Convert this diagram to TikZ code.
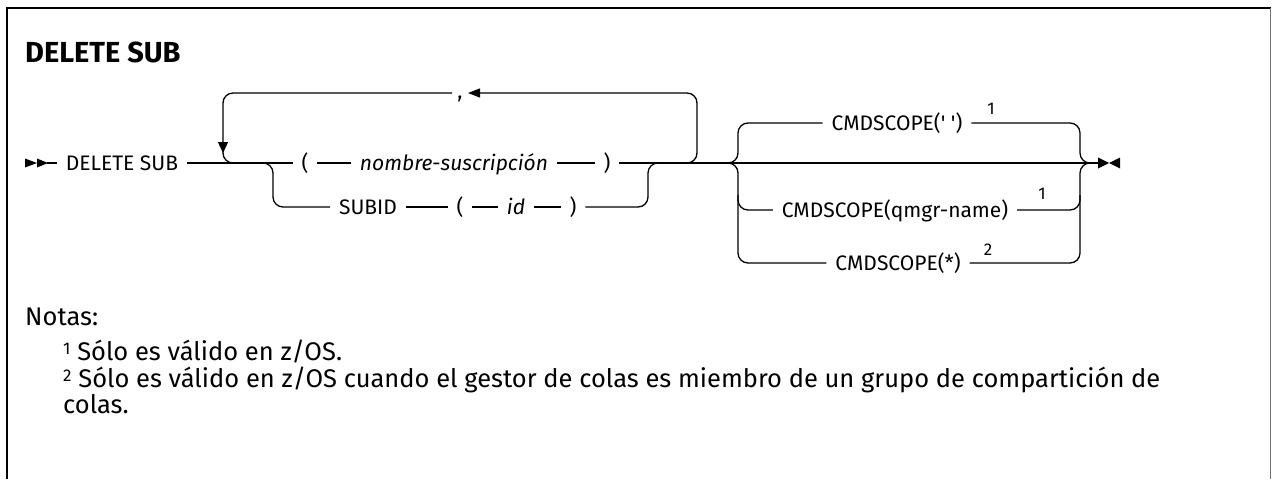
\documentclass[tikz,border=0pt]{standalone}
\usepackage{fontspec}
\setmainfont{Fira Sans}
\usetikzlibrary{arrows.meta}

\newcommand{\notemark}[1]{\raisebox{6pt}{\fontsize{17}{17}\selectfont #1}}

\tikzset{
  rail/.style={line width=1.3pt, rounded corners=10pt},
  tok/.style={inner xsep=9pt, inner ysep=0pt, outer sep=0pt,
              text height=14.5pt, text depth=0pt,
              font=\fontsize{21}{25}\selectfont},
  var/.style={tok, font=\fontsize{21}{25}\selectfont\itshape},
  supnum/.style={inner sep=0pt, font=\fontsize{17}{18}\selectfont},
  notetext/.style={anchor=base west, inner sep=0pt,
                   font=\fontsize{25.5}{30}\selectfont}
}

\begin{document}
\begin{tikzpicture}[x=1pt, y=-1pt]
    \useasboundingbox (0,0) rectangle (1273,479);

    % Frame
    \draw[line width=2.5pt] (7,479) -- (7,8) -- (1271,8);
    \draw[black!55, line width=1pt] (1270,8) -- (1270,479);

    % Title
    \node[anchor=base west, inner sep=0pt,
          font=\bfseries\fontsize{29}{34}\selectfont] (title) at (25,62) {DELETE SUB};

    % Start marker
    \fill (25,158.5) -- (37,163) -- (25,167.5) -- cycle;
    \fill (37,158.5) -- (48,163) -- (37,167.5) -- cycle;
    \coordinate (start) at (47,163);

    % Tokens on the main line
    \node[tok] (delsub) at (122,163) {DELETE SUB};
    \node[tok] (lpar) at (305,163) {(};
    \node[var] (subname) at (454,163) {nombre-suscripción};
    \node[tok] (rpar) at (607,163) {)};

    % Tokens on the lower branch
    \node[tok] (subid) at (368,207) {SUBID};
    \node[tok] (lpar2) at (460,207) {(};
    \node[var] (idval) at (516,207) {id};
    \node[tok] (rpar2) at (573,207) {)};

    \coordinate (split) at (263,163);
    \coordinate (choice) at (728,163);
    \coordinate (finish) at (1098,163);

    % Main line
    \draw[rail] (start) -- (delsub);
    \draw[rail] (delsub) -- (lpar);
    \draw[rail] (lpar) -- (subname);
    \draw[rail] (subname) -- (rpar);
    \draw[rail] (rpar) -- (choice);

    % Lower branch
    \draw[rail] (split) -- (273,163) -- (273,207) -- (subid);
    \draw[rail] (subid) -- (lpar2);
    \draw[rail] (lpar2) -- (idval);
    \draw[rail] (idval) -- (rpar2);
    \draw[rail] (rpar2) -- (648,207) -- (648,163) -- (660,163);

    % Repeat loop
    \node[tok, inner xsep=0pt] (comma) at (460,91) {,};
    \coordinate (commaR) at (468,93);
    \coordinate (commaL) at (452,93);
    \coordinate (loopR) at (672,163);
    \coordinate (loopL) at (245,163);
    \draw[rail, -{Triangle[length=12pt,width=9pt]}]
        (loopR) -- (697,163) -- (697,93) -- (commaR);
    \draw[rail, -{Triangle[length=11pt,width=10pt]}]
        (commaL) -- (223,93) -- (223,153);
    \draw[rail] (223,145) -- (223,163) -- (loopL);

    % Choice of scope
    \node[tok] (scope1) at (897,123) {CMDSCOPE(\textquotesingle\ \textquotesingle)};
    \node[tok] (scope2) at (895,210) {CMDSCOPE(qmgr-name)};
    \node[tok] (scope3) at (898,263) {CMDSCOPE(*)};
    \node[supnum] (sup1) at (991,109) {1};
    \node[supnum] (sup2) at (1042,194) {1};
    \node[supnum] (sup3) at (988,250) {2};

    \draw[rail] (choice) -- (finish);
    \draw[rail] (choice) -- (738,163) -- (738,123) -- (scope1);
    \draw[rail] (choice) -- (738,163) -- (738,263) -- (scope3);
    \draw[rail] (738,195) -- (738,210) -- (scope2);
    \draw[rail] (scope1) -- (1080,123) -- (1080,163) -- (1090,163);
    \draw[rail] (scope3) -- (1080,263) -- (1080,163) -- (1090,163);
    \draw[rail] (scope2) -- (1080,210) -- (1080,195);

    % End marker
    \fill (1098,157.5) -- (1109,163) -- (1098,168.5) -- cycle;
    \fill (1120,157.5) -- (1109,163) -- (1120,168.5) -- cycle;

    % Notes
    \node[notetext] (notes) at (25,325) {Notas:};
    \node[notetext] (note1) at (63,360) {\notemark{1} Sólo es válido en z/OS.};
    \node[notetext] (note2) at (63,387) {\notemark{2} Sólo es válido en z/OS cuando el gestor de colas es miembro de un grupo de compartición de};
    \node[notetext] (note2b) at (63,413) {colas.};
\end{tikzpicture}
\end{document}
